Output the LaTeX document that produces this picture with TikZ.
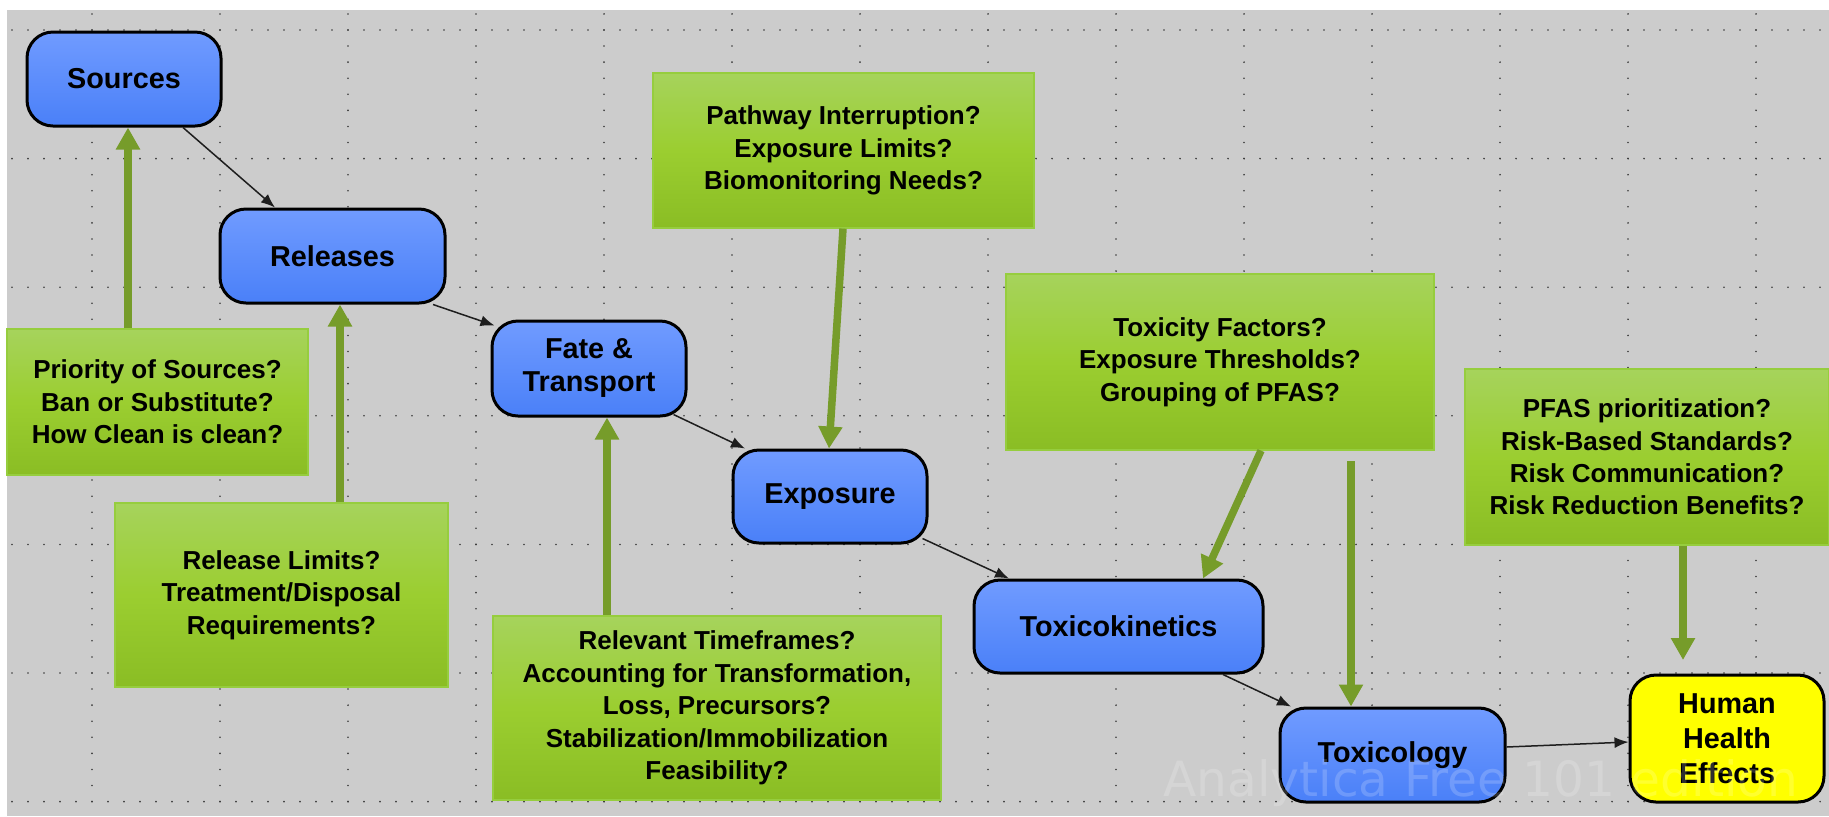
\documentclass[tikz,border=0pt]{standalone}
\usepackage{fontspec}
\setmainfont{Liberation Sans}
\newfontfamily\markfont{DejaVu Sans}
\usetikzlibrary{arrows.meta,calc}

\definecolor{canvas}{RGB}{204,204,204}
\definecolor{griddot}{RGB}{60,60,60}
\definecolor{nodetop}{RGB}{112,155,255}
\definecolor{nodebot}{RGB}{74,128,248}
\definecolor{qtop}{RGB}{166,211,92}
\definecolor{qmid}{RGB}{155,206,48}
\definecolor{qbot}{RGB}{138,189,36}
\definecolor{qedge}{RGB}{150,205,62}
\definecolor{qarrow}{RGB}{118,156,42}
\definecolor{goal}{RGB}{255,255,0}
\definecolor{flowline}{RGB}{30,30,30}

\begin{document}
\begin{tikzpicture}[x=0.5pt,y=-0.5pt,
  model/.style 2 args={draw=black, line width=1.5pt, rounded corners=13pt,
    top color=nodetop, bottom color=nodebot,
    minimum width=#1, minimum height=#2, inner sep=0pt, align=center,
    font=\bfseries\fontsize{14.4}{16.5}\selectfont},
  outcome/.style 2 args={draw=black, line width=1.5pt, rounded corners=13pt,
    fill=goal, minimum width=#1, minimum height=#2, inner sep=0pt, align=center,
    font=\bfseries\fontsize{14.4}{17.5}\selectfont},
  question/.style 2 args={draw=qedge, line width=0.6pt,
    top color=qtop, bottom color=qbot, middle color=qmid,
    minimum width=#1, minimum height=#2, inner sep=0pt, align=center,
    font=\bfseries\fontsize{13}{16.2}\selectfont},
  flow/.style={draw=flowline, line width=0.75pt, -{Latex[length=7pt,width=5.5pt]}},
  lever/.style={draw=qarrow, line width=3.75pt, -{Triangle[length=11pt,width=11.5pt]}},
  hdots/.style={draw=griddot, line width=0.9pt, line cap=round, dash pattern=on 0pt off 8pt},
  vdots/.style={draw=griddot, line width=0.9pt, line cap=round, dash pattern=on 0pt off 8.0375pt}
]
% page and canvas
\useasboundingbox (0,0) rectangle (1829,816);
\fill[white] (0,0) rectangle (1829,816);
\fill[canvas] (7,10) rectangle (1829,816);

% dotted grid
\foreach \k in {0,...,6}
  \draw[hdots] (12,{30+128.6*\k}) -- (1829,{30+128.6*\k});
\foreach \k in {0,...,13}
  \draw[vdots] ({92+128*\k},13.9) -- ({92+128*\k},816);

% model chain
\node[model={97pt}{47pt}] (sources) at (124,79) {Sources};
\node[model={112.5pt}{47pt}] (releases) at (332.5,256) {Releases};
\node[model={97pt}{47.5pt}] (fate) at (589,368.5) {Fate \&\\Transport};
\node[model={97pt}{46.5pt}] (exposure) at (830,496.5) {Exposure};
\node[model={144.5pt}{46.5pt}] (toxicokin) at (1118.5,626.5) {Toxicokinetics};
\node[model={112.5pt}{47pt}] (toxicology) at (1392.5,755) {Toxicology};
\node[outcome={97pt}{63.5pt}] (hhe) at (1727,738.5) {Human\\Health\\Effects};

% management questions
\node[question={190.5pt}{77.5pt}] (pathway) at (843.5,150.5)
  {Pathway Interruption?\\Exposure Limits?\\Biomonitoring Needs?};
\node[question={214pt}{88pt}] (toxq) at (1220,362)
  {Toxicity Factors?\\Exposure Thresholds?\\Grouping of PFAS?};
\node[question={182pt}{88pt}] (pfasq) at (1647,457)
  {PFAS prioritization?\\Risk-Based Standards?\\Risk Communication?\\Risk Reduction Benefits?};
\node[question={150.5pt}{73pt}] (prioq) at (157.5,402)
  {Priority of Sources?\\Ban or Substitute?\\How Clean is clean?};
\node[question={166.5pt}{92pt}] (relq) at (281.5,595)
  {Release Limits?\\Treatment/Disposal\\Requirements?};
\node[question={224pt}{92pt}] (timeq) at (717,708)
  {Relevant Timeframes?\\Accounting for Transformation,\\Loss, Precursors?\\Stabilization/Immobilization\\Feasibility?};

% causal links
\draw[flow] (sources.south -| 183,0) -- (releases.north -| 275,0);
\draw[flow] (releases.south -| 433,0) -- ([shift={(4,6)}]fate.north west);
\draw[flow] ([shift={(-14,-3)}]fate.south east) -- (exposure.north -| 745,0);
\draw[flow] ([shift={(-6,-6)}]exposure.south east) -- (toxicokin.north -| 1009,0);
\draw[flow] (toxicokin.south -| 1223,0) -- (toxicology.north -| 1291,0);
\draw[flow] ([shift={(0,-8)}]toxicology.east) -- ([shift={(0,3.5)}]hhe.west);

% questions pointing at the chain
\coordinate (toxdrop) at (1351,461);
\coordinate (pfasdrop) at (1683,660);
\draw[lever] (prioq.north -| 128,0) -- (sources.south -| 128,0);
\draw[lever] (relq.north -| 340,0) -- (releases.south -| 340,0);
\draw[lever] (timeq.north -| 607,0) -- (fate.south -| 607,0);
\draw[lever] (pathway.south -| 843,0) -- (exposure.north -| 829,0);
\draw[lever] (toxq.south -| 1261,0) -- (toxicokin.north -| 1203,0);
\draw[lever] (toxdrop) -- (toxicology.north -| toxdrop);
\draw[lever] (pfasq.south -| pfasdrop) -- (pfasdrop);

% edition mark
\node[anchor=base west, inner sep=0pt, text=white, text opacity=0.18,
  font=\markfont\fontsize{24.3}{28}\selectfont] (mark) at (1163,796)
  {Analytica Free 101 edition};
\end{tikzpicture}
\end{document}
